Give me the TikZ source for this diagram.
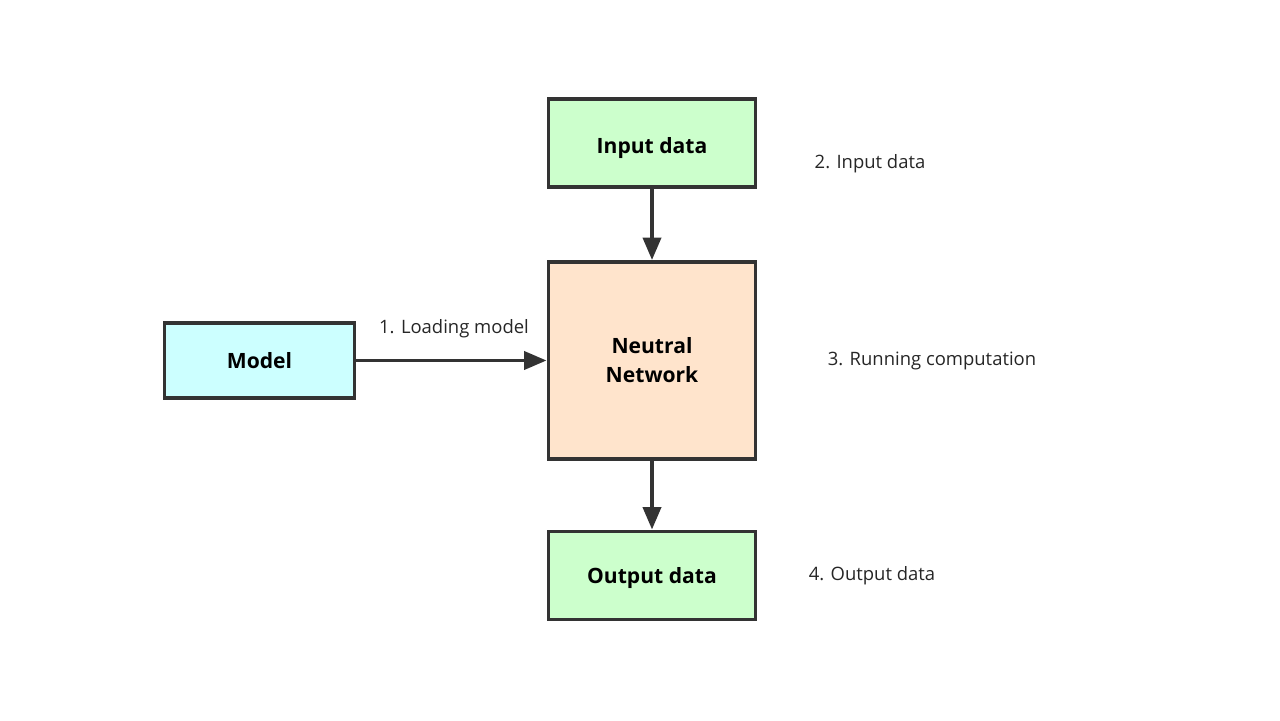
\documentclass[tikz,border=0pt]{standalone}
\usepackage{fontspec}
\setmainfont{Open Sans}
\usepackage{tikz}
\usepackage{xcolor}
\usetikzlibrary{arrows.meta}
\definecolor{datagreen}{HTML}{CCFFCC}
\definecolor{modelblue}{HTML}{CCFFFF}
\definecolor{netpeach}{HTML}{FFE4CC}
\definecolor{edgegray}{HTML}{333333}

\begin{document}
\begin{tikzpicture}[
    box/.style={draw=edgegray,line width=2.2pt,minimum width=4.14cm,font=\bfseries\fontsize{12pt}{16.5pt}\selectfont,align=center},
    note/.style={font=\fontsize{10.5pt}{13pt}\selectfont,text=black!85},
    flow/.style={draw=edgegray,line width=2.2pt,-{Triangle[length=0.45cm,width=0.36cm]}}
]
        \useasboundingbox (0,0) rectangle (25.6,14.4);
        \node[box,fill=datagreen,minimum height=1.76cm] (input) at (13.04,11.54) {\raisebox{-0.22cm}[0pt][0pt]{Input data}};
        \node[box,fill=netpeach,minimum height=3.94cm] (net) at (13.04,7.19) {Neutral\\Network};
        \node[box,fill=datagreen,minimum height=1.76cm] (output) at (13.04,2.89) {\raisebox{-0.16cm}[0pt][0pt]{Output data}};
        \node[box,fill=modelblue,minimum width=3.8cm,minimum height=1.5cm] (model) at (5.19,7.19) {Model};
        \node[note] (load) at (9.08,7.82) {1. Loading model};
        \node[note] (step2) at (17.4,11.12) {2. Input data};
        \node[note] (step3) at (18.64,7.18) {3. Running computation};
        \node[note] (step4) at (17.44,2.88) {4. Output data};
        \draw[flow] (input) -- (net);
        \draw[flow] (model) -- (net);
        \draw[flow] (net) -- (output);
    \end{tikzpicture}
\end{document}
